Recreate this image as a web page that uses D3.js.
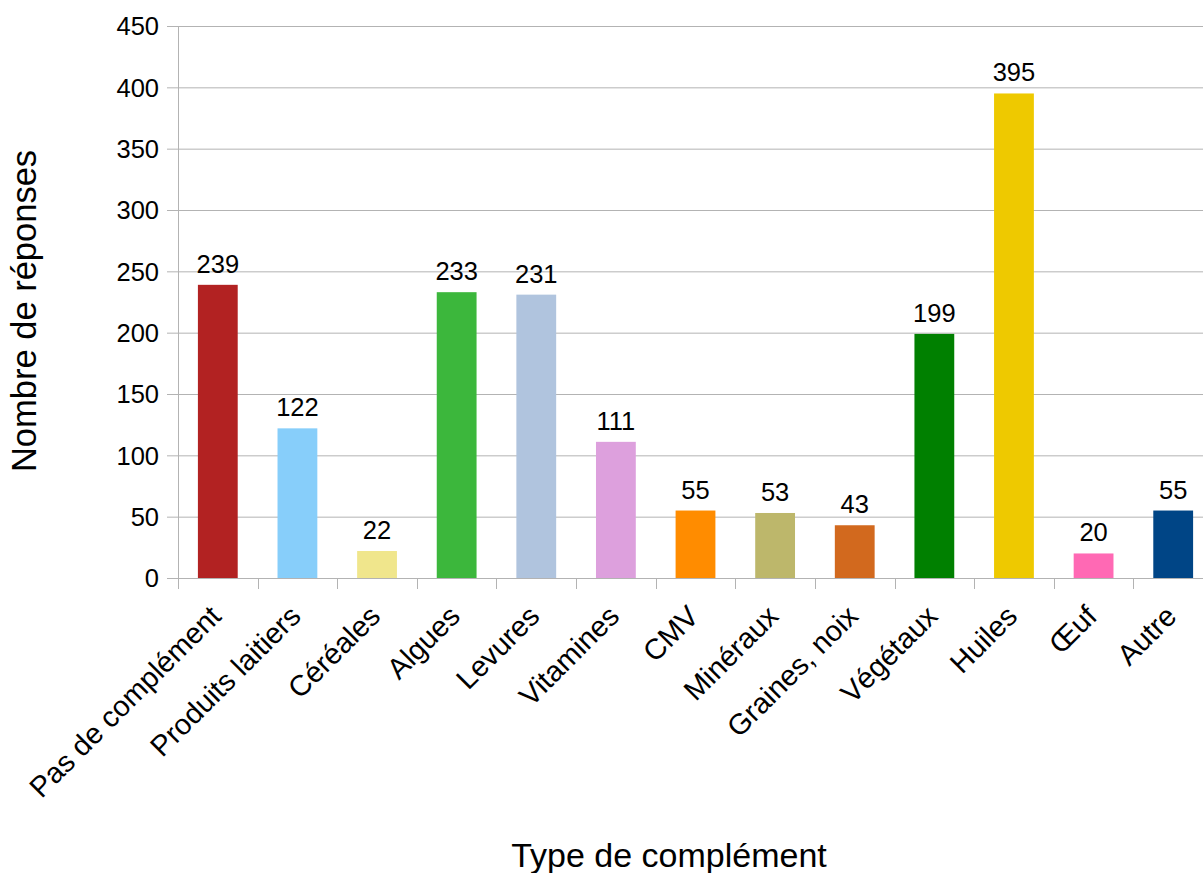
<!DOCTYPE html>
<html>
<head>
<meta charset="utf-8">
<script src="https://cdn.jsdelivr.net/npm/d3@7"></script>
<style>
  html, body { margin: 0; padding: 0; background: #fff; }
  svg { display: block; }
  svg text { font-family: "Liberation Sans", Arimo, Arial, Helvetica, sans-serif; }
</style>
</head>
<body>
<svg id="chart" width="1203" height="873"></svg>
<script>
const categories = ["Pas de complément", "Produits laitiers", "Céréales", "Algues", "Levures", "Vitamines", "CMV", "Minéraux", "Graines, noix", "Végétaux", "Huiles", "Œuf", "Autre"];
const values = [239, 122, 22, 233, 231, 111, 55, 53, 43, 199, 395, 20, 55];
const colors = ["#b22222", "#87cefa", "#f0e68c", "#3cb73c", "#b0c4de", "#dda0dd", "#ff8c00", "#bdb76b", "#d2691e", "#008000", "#eec900", "#ff69b4", "#004586"];
const yTicks = [0, 50, 100, 150, 200, 250, 300, 350, 400, 450];
const xTitle = "Type de complément";
const yTitle = "Nombre de réponses";

(function () {
const svg = d3.select("#chart");
const pLeft = 178, pRight = 1213, pTop = 26, pBottom = 578;

const x = d3.scaleBand().domain(categories).range([pLeft, pRight]).paddingInner(0.5).paddingOuter(0.25);
const y = d3.scaleLinear().domain([0, 450]).range([pBottom, pTop]);
const step = x.step(), bw = x.bandwidth(), gap = (step - bw) / 2;
const gridColor = "#b3b3b3";

svg.append("g").selectAll("line").data(yTicks).join("line")
  .attr("x1", pLeft - 11).attr("x2", 1203)
  .attr("y1", d => y(d) + 0.5).attr("y2", d => y(d) + 0.5)
  .attr("stroke", gridColor).attr("stroke-width", 1);

svg.append("line").attr("x1", pLeft + 0.5).attr("x2", pLeft + 0.5)
  .attr("y1", pTop).attr("y2", pBottom + 11)
  .attr("stroke", gridColor);

const boundaries = categories.map(c => x(c) - gap).concat([x(categories[categories.length - 1]) + bw + gap]);
svg.append("g").selectAll("line").data(boundaries).join("line")
  .attr("x1", d => Math.round(d) + 0.5).attr("x2", d => Math.round(d) + 0.5)
  .attr("y1", pBottom).attr("y2", pBottom + 11)
  .attr("stroke", gridColor);

svg.append("g").selectAll("text").data(yTicks).join("text")
  .attr("x", pLeft - 19).attr("y", d => y(d)).attr("dy", "0.36em")
  .attr("text-anchor", "end").attr("font-size", 25.5).attr("fill", "#000")
  .text(d => d);

svg.append("g").selectAll("rect").data(values).join("rect")
  .attr("x", (d, i) => x(categories[i]))
  .attr("width", bw)
  .attr("y", d => y(d))
  .attr("height", d => pBottom - y(d))
  .attr("fill", (d, i) => colors[i]);

svg.append("g").selectAll("text").data(values).join("text")
  .attr("x", (d, i) => x(categories[i]) + bw / 2)
  .attr("y", d => y(d) - 12)
  .attr("text-anchor", "middle").attr("font-size", 25.5).attr("fill", "#000")
  .text(d => d);

svg.append("g").selectAll("text").data(categories).join("text")
  .attr("transform", d => `translate(${x(d) + bw / 2 + 5},${618}) rotate(-45)`)
  .attr("text-anchor", "end").attr("font-size", 29).attr("fill", "#000")
  .text(d => d);

svg.append("text").attr("x", 669).attr("y", 867)
  .attr("text-anchor", "middle").attr("font-size", 34).attr("fill", "#000")
  .text(xTitle);
svg.append("text").attr("transform", "translate(36,311) rotate(-90)")
  .attr("text-anchor", "middle").attr("font-size", 34.5).attr("fill", "#000")
  .text(yTitle);
})();
</script>
</body>
</html>
